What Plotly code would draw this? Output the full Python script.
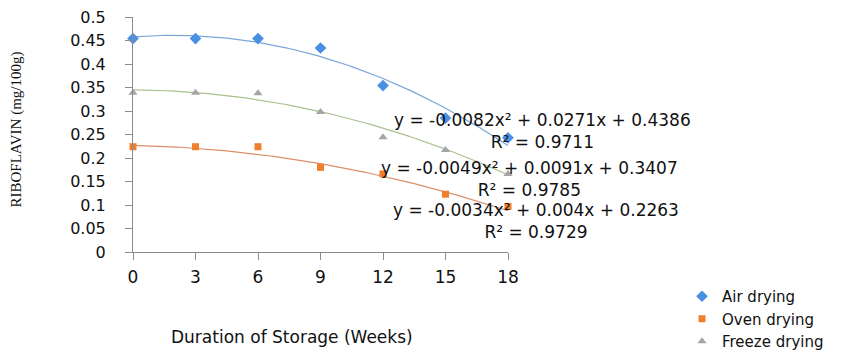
import numpy as np
import plotly.graph_objects as go

weeks = [0, 3, 6, 9, 12, 15, 18]
air_drying = [0.454, 0.454, 0.454, 0.434, 0.354, 0.285, 0.243]
oven_drying = [0.224, 0.224, 0.224, 0.180, 0.166, 0.123, 0.097]
freeze_drying = [0.339, 0.339, 0.338, 0.298, 0.244, 0.217, 0.166]

# polynomial trendline coefficients (a, b, c) printed on the chart; x = point index 1..7
air_coef = [-0.0082, 0.0271, 0.4386]
oven_coef = [-0.0034, 0.004, 0.2263]
freeze_coef = [-0.0049, 0.0091, 0.3407]
air_r2, oven_r2, freeze_r2 = "0.9711", "0.9729", "0.9785"

y_ticks = [round(0.05 * i, 2) for i in range(11)]
x_ticks = weeks

idx = np.linspace(1, 7, 121)
wk = (idx - 1) * 3


def trend(coef):
    return np.polyval(coef, idx)


def eq_text(coef, r2):
    a, b, c = coef
    return f"y = {a:g}x² + {b:g}x + {c:g}<br>R² = {r2}"


fig = go.Figure()

trend_colors = {"air": "#79A7DC", "oven": "#DC8E6A", "freeze": "#A9C08F"}
fig.add_trace(go.Scatter(x=wk, y=trend(air_coef), mode="lines",
                         line=dict(color=trend_colors["air"], width=1.2), showlegend=False, hoverinfo="skip"))
fig.add_trace(go.Scatter(x=wk, y=trend(freeze_coef), mode="lines",
                         line=dict(color=trend_colors["freeze"], width=1.2), showlegend=False, hoverinfo="skip"))
fig.add_trace(go.Scatter(x=wk, y=trend(oven_coef), mode="lines",
                         line=dict(color=trend_colors["oven"], width=1.2), showlegend=False, hoverinfo="skip"))

fig.add_trace(go.Scatter(x=weeks, y=air_drying, mode="markers", name="Air drying",
                         marker=dict(symbol="diamond", size=9, color="#4A90E2"), cliponaxis=False))
fig.add_trace(go.Scatter(x=weeks, y=oven_drying, mode="markers", name="Oven drying",
                         marker=dict(symbol="square", size=7, color="#F07F2D"), cliponaxis=False))
fig.add_trace(go.Scatter(x=weeks, y=freeze_drying, mode="markers", name="Freeze drying",
                         marker=dict(symbol="triangle-up", size=8, color="#A5A5A5"), cliponaxis=False))

axis_color = "#8C8C8C"
fig.update_xaxes(range=[0, 18], tickvals=x_ticks, showgrid=False, zeroline=False,
                 showline=True, linecolor=axis_color, linewidth=1,
                 ticks="outside", ticklen=7, tickcolor=axis_color,
                 ticklabelstandoff=3, ticklabeloverflow="allow",
                 tickfont=dict(family="DejaVu Sans", size=17, color="#111111"))
fig.update_yaxes(range=[0, 0.5], tickvals=y_ticks, showgrid=False, zeroline=False,
                 showline=True, linecolor=axis_color, linewidth=1,
                 ticks="outside", ticklen=7, tickcolor=axis_color,
                 ticklabelstandoff=16, ticklabeloverflow="allow",
                 tickfont=dict(family="DejaVu Sans", size=16, color="#111111"))

# page places the figure 8px in from the top-left corner
OFF = 8
W, H = 861 - OFF, 354 - OFF
L, R, T, B = 133 - OFF, 508 - OFF, 17 - OFF, 252 - OFF


def px_x(p):
    return (p - OFF - L) / (R - L)


def px_y(p):
    return (B - (p - OFF)) / (B - T)


eq_font = dict(family="DejaVu Sans", size=17, color="#111111")
annotations = [
    dict(x=px_x(542), y=px_y(131), text=eq_text(air_coef, air_r2)),
    dict(x=px_x(529), y=px_y(178.5), text=eq_text(freeze_coef, freeze_r2)),
    dict(x=px_x(536), y=px_y(220.5), text=eq_text(oven_coef, oven_r2)),
]
for a in annotations:
    a.update(xref="paper", yref="paper", showarrow=False, xanchor="center", yanchor="middle",
             align="center", font=eq_font)

annotations.append(dict(text="RIBOFLAVIN (mg/100g)", xref="paper", yref="paper",
                        x=px_x(16), y=px_y(129.5), textangle=-90, showarrow=False,
                        xanchor="center", yanchor="middle",
                        font=dict(family="Liberation Serif", size=15, color="#111111")))
annotations.append(dict(text="Duration of Storage (Weeks)", xref="paper", yref="paper",
                        x=px_x(292), y=px_y(337), showarrow=False, xanchor="center", yanchor="middle",
                        font=dict(family="DejaVu Sans", size=17, color="#111111")))

fig.update_layout(
    width=W, height=H,
    margin=dict(l=L, r=W - R, t=T, b=H - B, autoexpand=False),
    paper_bgcolor="white", plot_bgcolor="white",
    annotations=annotations,
    legend=dict(x=px_x(682), y=px_y(280), xanchor="left", yanchor="top",
                font=dict(family="DejaVu Sans", size=15, color="#111111"),
                itemwidth=30, tracegroupgap=0, bgcolor="rgba(0,0,0,0)"),
)

fig.write_html("out.html")
